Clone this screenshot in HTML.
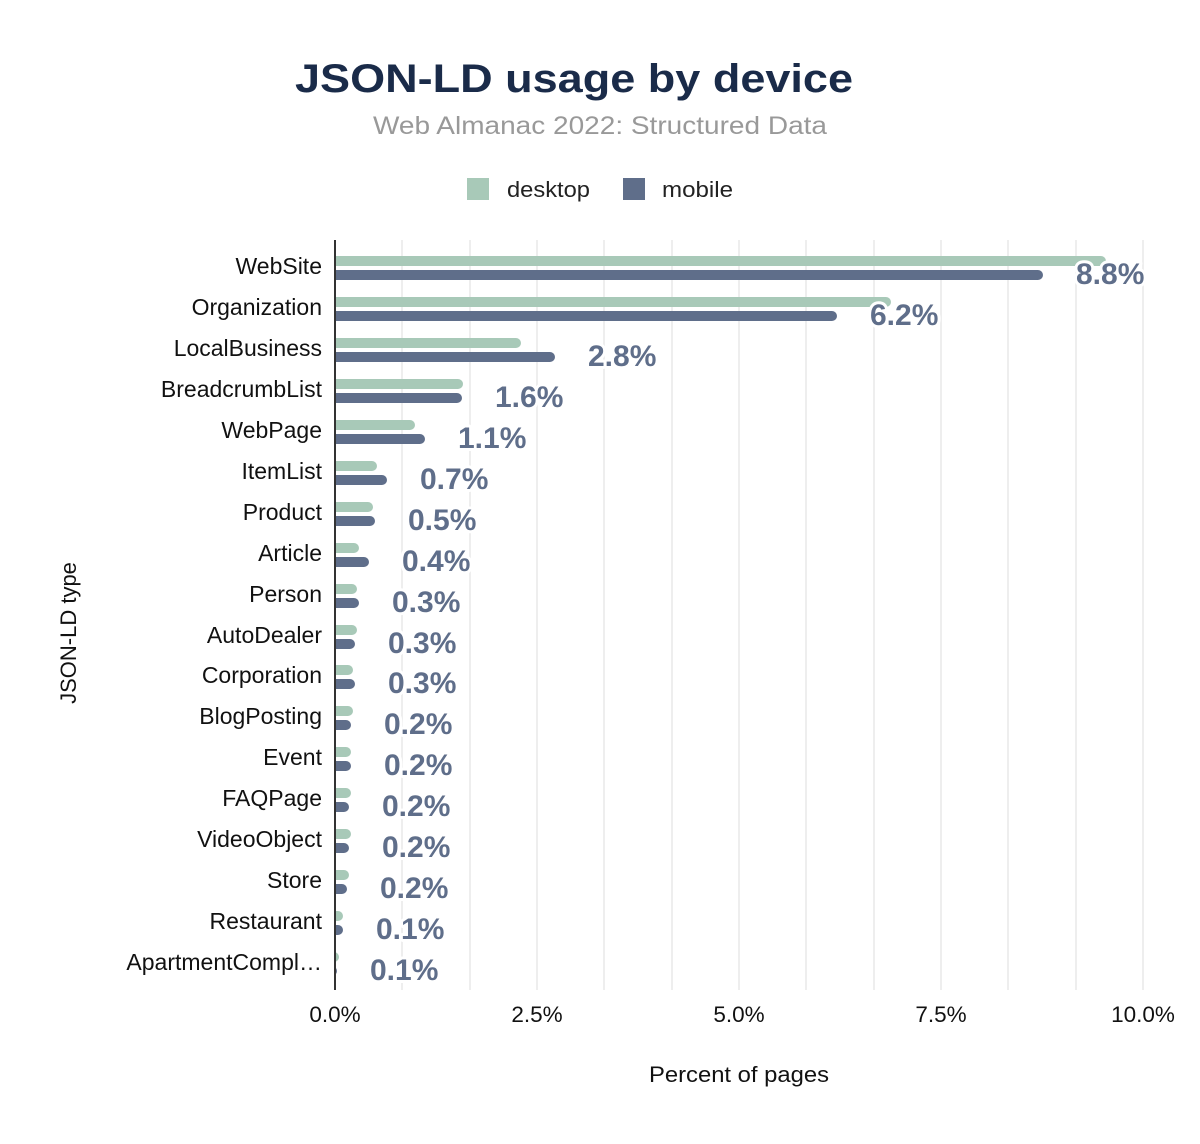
<!DOCTYPE html>
<html><head><meta charset="utf-8"><style>body{margin:0;background:#fff}svg{display:block}</style></head><body>
<svg width="1200" height="1144" xmlns="http://www.w3.org/2000/svg" font-family="Liberation Sans, sans-serif">
<defs><clipPath id="c"><rect x="335" y="230" width="900" height="770"/></clipPath></defs>
<rect width="1200" height="1144" fill="#fff"/>
<text x="574" y="92" text-anchor="middle" font-size="40" font-weight="bold" fill="#1a2b49" textLength="558" lengthAdjust="spacingAndGlyphs">JSON-LD usage by device</text>
<text x="600" y="134" text-anchor="middle" font-size="25" fill="#999" textLength="454" lengthAdjust="spacingAndGlyphs">Web Almanac 2022: Structured Data</text>
<rect x="467" y="178" width="22" height="22" fill="#a8c9b8"/>
<text x="507" y="197" font-size="22" fill="#222" textLength="83" lengthAdjust="spacingAndGlyphs">desktop</text>
<rect x="623" y="178" width="22" height="22" fill="#5f6e8a"/>
<text x="662" y="197" font-size="22" fill="#222" textLength="71" lengthAdjust="spacingAndGlyphs">mobile</text>
<g stroke="#eee" stroke-width="2">
<line x1="402" y1="240" x2="402" y2="990"/><line x1="470" y1="240" x2="470" y2="990"/><line x1="537" y1="240" x2="537" y2="990"/><line x1="604" y1="240" x2="604" y2="990"/><line x1="672" y1="240" x2="672" y2="990"/><line x1="739" y1="240" x2="739" y2="990"/><line x1="806" y1="240" x2="806" y2="990"/><line x1="874" y1="240" x2="874" y2="990"/><line x1="941" y1="240" x2="941" y2="990"/><line x1="1008" y1="240" x2="1008" y2="990"/><line x1="1076" y1="240" x2="1076" y2="990"/><line x1="1143" y1="240" x2="1143" y2="990"/>
</g>
<g font-size="22.5" fill="#111" text-anchor="middle">
<text x="335" y="1022">0.0%</text><text x="537" y="1022">2.5%</text><text x="739" y="1022">5.0%</text><text x="941" y="1022">7.5%</text><text x="1143" y="1022">10.0%</text>
</g>
<text x="739" y="1082" text-anchor="middle" font-size="22" fill="#111" textLength="180" lengthAdjust="spacingAndGlyphs">Percent of pages</text>
<text transform="translate(76,633) rotate(-90)" text-anchor="middle" font-size="22" fill="#111">JSON-LD type</text>
<g clip-path="url(#c)">
<g fill="#a8c9b8">
<rect x="325" y="256" width="781" height="10" rx="5"/>
<rect x="325" y="297" width="566" height="10" rx="5"/>
<rect x="325" y="338" width="196" height="10" rx="5"/>
<rect x="325" y="379" width="138" height="10" rx="5"/>
<rect x="325" y="420" width="90" height="10" rx="5"/>
<rect x="325" y="461" width="52" height="10" rx="5"/>
<rect x="325" y="502" width="48" height="10" rx="5"/>
<rect x="325" y="543" width="34" height="10" rx="5"/>
<rect x="325" y="584" width="32" height="10" rx="5"/>
<rect x="325" y="625" width="32" height="10" rx="5"/>
<rect x="325" y="665" width="28" height="10" rx="5"/>
<rect x="325" y="706" width="28" height="10" rx="5"/>
<rect x="325" y="747" width="26" height="10" rx="5"/>
<rect x="325" y="788" width="26" height="10" rx="5"/>
<rect x="325" y="829" width="26" height="10" rx="5"/>
<rect x="325" y="870" width="24" height="10" rx="5"/>
<rect x="325" y="911" width="18" height="10" rx="5"/>
<rect x="325" y="952" width="14" height="10" rx="5"/>
</g>
<g fill="#5f6e8a">
<rect x="325" y="270" width="718" height="10" rx="5"/>
<rect x="325" y="311" width="512" height="10" rx="5"/>
<rect x="325" y="352" width="230" height="10" rx="5"/>
<rect x="325" y="393" width="137" height="10" rx="5"/>
<rect x="325" y="434" width="100" height="10" rx="5"/>
<rect x="325" y="475" width="62" height="10" rx="5"/>
<rect x="325" y="516" width="50" height="10" rx="5"/>
<rect x="325" y="557" width="44" height="10" rx="5"/>
<rect x="325" y="598" width="34" height="10" rx="5"/>
<rect x="325" y="639" width="30" height="10" rx="5"/>
<rect x="325" y="679" width="30" height="10" rx="5"/>
<rect x="325" y="720" width="26" height="10" rx="5"/>
<rect x="325" y="761" width="26" height="10" rx="5"/>
<rect x="325" y="802" width="24" height="10" rx="5"/>
<rect x="325" y="843" width="24" height="10" rx="5"/>
<rect x="325" y="884" width="22" height="10" rx="5"/>
<rect x="325" y="925" width="18" height="10" rx="5"/>
<rect x="325" y="966" width="12" height="10" rx="5"/>
</g>
</g>
<line x1="335" y1="240" x2="335" y2="990" stroke="#333" stroke-width="2"/>
<g font-size="23" fill="#111" text-anchor="end">
<text x="322" y="274">WebSite</text>
<text x="322" y="315">Organization</text>
<text x="322" y="356">LocalBusiness</text>
<text x="322" y="397">BreadcrumbList</text>
<text x="322" y="438">WebPage</text>
<text x="322" y="479">ItemList</text>
<text x="322" y="520">Product</text>
<text x="322" y="561">Article</text>
<text x="322" y="602">Person</text>
<text x="322" y="643">AutoDealer</text>
<text x="322" y="683">Corporation</text>
<text x="322" y="724">BlogPosting</text>
<text x="322" y="765">Event</text>
<text x="322" y="806">FAQPage</text>
<text x="322" y="847">VideoObject</text>
<text x="322" y="888">Store</text>
<text x="322" y="929">Restaurant</text>
<text x="322" y="970">ApartmentCompl…</text>
</g>
<g font-size="30" font-weight="bold" fill="#5f6e8a" stroke="#fff" stroke-width="6" paint-order="stroke" stroke-linejoin="round">
<text x="1076" y="284">8.8%</text>
<text x="870" y="325">6.2%</text>
<text x="588" y="366">2.8%</text>
<text x="495" y="407">1.6%</text>
<text x="458" y="448">1.1%</text>
<text x="420" y="489">0.7%</text>
<text x="408" y="530">0.5%</text>
<text x="402" y="571">0.4%</text>
<text x="392" y="612">0.3%</text>
<text x="388" y="653">0.3%</text>
<text x="388" y="693">0.3%</text>
<text x="384" y="734">0.2%</text>
<text x="384" y="775">0.2%</text>
<text x="382" y="816">0.2%</text>
<text x="382" y="857">0.2%</text>
<text x="380" y="898">0.2%</text>
<text x="376" y="939">0.1%</text>
<text x="370" y="980">0.1%</text>
</g>
</svg>
</body></html>
